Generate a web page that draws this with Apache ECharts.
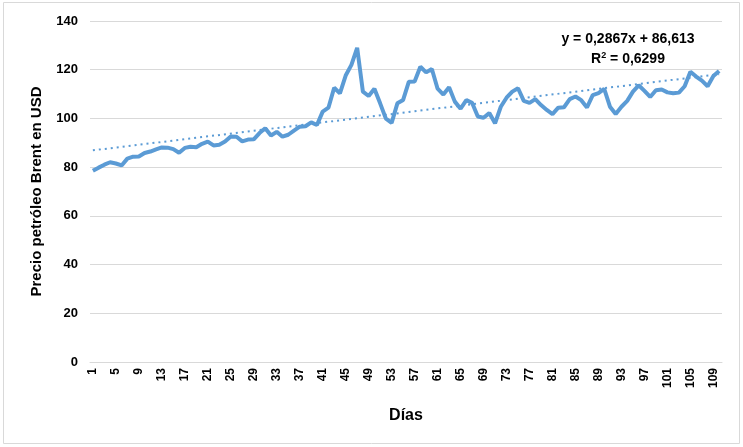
<!DOCTYPE html>
<html>
<head>
<meta charset="utf-8">
<script src="https://cdn.jsdelivr.net/npm/echarts@6/dist/echarts.min.js"></script>
<style>
  html, body { margin: 0; padding: 0; background: #fff; }
  #chart { width: 743px; height: 447px; }
</style>
</head>
<body>
<div id="chart"></div>
<script>
// días 1..110
const dias = []
for (let d = 1; d <= 110; d++) dias.push(String(d))

// precio del petróleo Brent (USD)
const precios = [
  78.5, 79.8, 81.0, 82.0, 81.5, 80.7, 83.5, 84.3, 84.4, 85.8,
  86.4, 87.3, 88.1, 88.0, 87.4, 85.9, 87.9, 88.4, 88.2, 89.6,
  90.5, 88.9, 89.2, 90.5, 92.6, 92.5, 90.6, 91.3, 91.4, 94.0,
  96.0, 93.0, 94.5, 92.5, 93.3, 95.0, 96.6, 96.8, 98.4, 97.3,
  102.8, 104.4, 112.6, 110.3, 117.6, 122.0, 129.0, 111.0, 109.2, 112.2,
  106.2, 99.9, 98.2, 106.2, 107.6, 115.1, 115.2, 121.2, 118.9, 120.3,
  112.2, 109.8, 112.8, 106.9, 104.0, 107.5, 106.4, 100.8, 100.3, 102.2,
  98.0, 104.8, 108.5, 111.0, 112.4, 107.2, 106.4, 107.9, 105.5, 103.5,
  101.8, 104.4, 104.6, 107.9, 109.0, 107.5, 104.5, 109.6, 110.4, 112.1,
  104.8, 101.8, 104.8, 107.2, 111.0, 113.6, 111.3, 108.8, 111.6, 111.9,
  110.7, 110.3, 110.6, 113.2, 119.2, 117.2, 115.5, 113.2, 117.4, 119.5
]

// línea de tendencia según la ecuación del gráfico
const pendiente = 0.2867
const intercepto = 86.613
const ecuacion = 'y = 0,2867x + 86,613'
const r2Texto = '{t|R}{sup|2}{t| = 0,6299}'

const azul = '#5b9bd5'
const fuente = 'Liberation Sans'

let chart = echarts.init(document.getElementById('chart'))
let option = {
  animation: false,
  textStyle: { fontFamily: fuente },
  grid: { left: 90, right: 21, top: 21, bottom: 85 },
  xAxis: {
    type: 'category',
    data: dias,
    boundaryGap: true,
    name: 'Días',
    nameLocation: 'middle',
    nameGap: 46,
    nameTextStyle: { fontSize: 16, fontWeight: 'bold', color: '#000' },
    axisLine: { lineStyle: { color: '#d9d9d9' } },
    axisTick: { show: false },
    axisLabel: {
      interval: 3,
      rotate: 90,
      fontSize: 12,
      fontWeight: 'bold',
      color: '#000',
      margin: 6
    }
  },
  yAxis: {
    type: 'value',
    min: 0,
    max: 140,
    interval: 20,
    name: 'Precio petróleo Brent en USD',
    nameLocation: 'middle',
    nameGap: 46,
    nameTextStyle: { fontSize: 15, fontWeight: 'bold', color: '#000' },
    axisLine: { show: false },
    axisTick: { show: false },
    axisLabel: { fontSize: 13, fontWeight: 'bold', color: '#000', margin: 12 },
    splitLine: { lineStyle: { color: '#d9d9d9', width: 1 } }
  },
  graphic: [
    {
      type: 'rect',
      shape: { x: 3.5, y: 2.5, width: 736, height: 441 },
      style: { fill: 'none', stroke: '#d9d9d9', lineWidth: 1 },
      silent: true
    },
    {
      type: 'text',
      x: 628, y: 39,
      style: {
        text: ecuacion, align: 'center', verticalAlign: 'middle',
        fontSize: 14, fontWeight: 'bold', fontFamily: fuente, fill: '#000'
      }
    },
    {
      type: 'text',
      x: 628, y: 59,
      style: {
        text: r2Texto, align: 'center', verticalAlign: 'middle',
        fontSize: 14, fontWeight: 'bold', fontFamily: fuente, fill: '#000',
        rich: {
          t: { fontSize: 14, fontWeight: 'bold', fontFamily: fuente, fill: '#000' },
          sup: { fontSize: 9, fontWeight: 'bold', fontFamily: fuente, fill: '#000', verticalAlign: 'top', padding: [0, 0, 6, 0] }
        }
      }
    }
  ],
  series: [
    {
      name: 'Precio',
      type: 'line',
      data: precios,
      showSymbol: false,
      lineStyle: { color: azul, width: 4 },
      itemStyle: { color: azul },
      markLine: {
        silent: true,
        symbol: 'none',
        label: { show: false },
        lineStyle: { color: azul, type: [2, 4], width: 2 },
        data: [[
          { coord: [dias[0], pendiente * 1 + intercepto] },
          { coord: [dias[dias.length - 1], pendiente * dias.length + intercepto] }
        ]]
      }
    }
  ]
}
chart.setOption(option)
</script>
</body>
</html>
